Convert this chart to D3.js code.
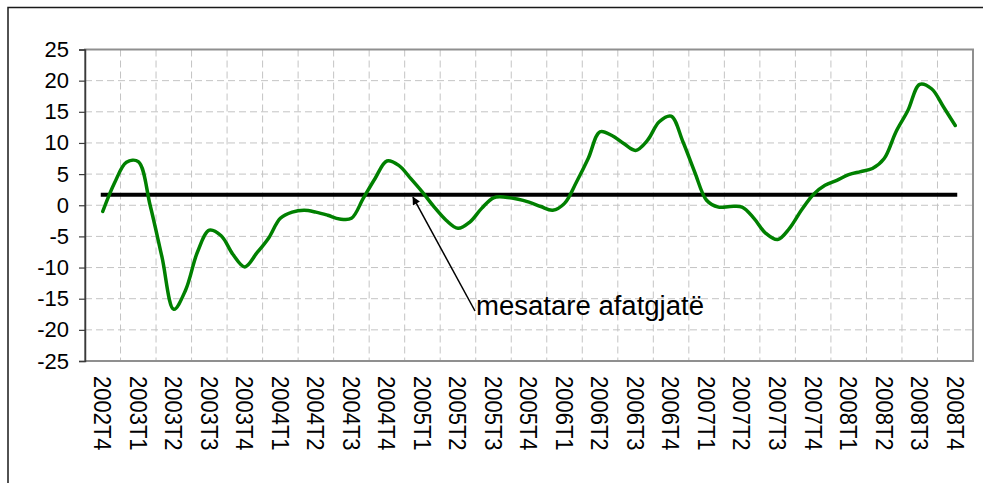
<!DOCTYPE html>
<html>
<head>
<meta charset="utf-8">
<script src="https://cdn.jsdelivr.net/npm/d3@7"></script>
<style>
  body { margin: 0; background: #fff; }
  svg { display: block; }
  text { font-family: "Liberation Sans", Arial, sans-serif; fill: #000; }
</style>
</head>
<body>
<svg id="chart"></svg>
<script>

// quarter labels on the category axis
const quarters = [
  '2002T4',
  '2003T1', '2003T2', '2003T3', '2003T4',
  '2004T1', '2004T2', '2004T3', '2004T4',
  '2005T1', '2005T2', '2005T3', '2005T4',
  '2006T1', '2006T2', '2006T3', '2006T4',
  '2007T1', '2007T2', '2007T3', '2007T4',
  '2008T1', '2008T2', '2008T3', '2008T4'
]

// monthly readings, three per quarter, 2002T4 .. 2008T4
const values = [
  -1.0, 3.6, 6.9, 7.0, 0.0, -8.3, -16.7, -13.6, -7.5, -4.0, -4.9, -7.9,
  -9.9, -7.7, -5.3, -2.1, -1.1, -0.8, -1.1, -1.6, -2.2, -2.1, 1.1, 4.3,
  7.1, 6.4, 4.3, 2.1, -0.3, -2.4, -3.7, -2.7, -0.5, 1.2, 1.3, 1.0,
  0.5, -0.2, -0.8, 0.3, 3.7, 7.5, 11.8, 11.2, 9.9, 8.8, 10.4, 13.4,
  14.3, 10.2, 5.3, 0.8, -0.3, -0.2, -0.3, -2.1, -4.5, -5.5, -3.7, -0.8,
  1.7, 3.2, 4.0, 4.9, 5.4, 5.9, 7.5, 11.8, 15.2, 19.4, 18.7, 15.8,
  12.8
]

const longRunMean = 1.7
const yTicks = [25, 20, 15, 10, 5, 0, -5, -10, -15, -20, -25]
const annotationText = 'mesatare afatgjatë'

const width = 983
const height = 483
const padding = { top: 49.5, right: 10, bottom: 122, left: 85 }

const svg = d3.select('#chart')
  .attr('width', width)
  .attr('height', height)

svg.append('rect')
  .attr('width', width)
  .attr('height', height)
  .attr('fill', '#fff')

// outer chart frame (only top and left edges are inside the picture)
svg.append('path')
  .attr('d', `M8,${ height } V7.5 H${ width }`)
  .attr('fill', 'none')
  .attr('stroke', '#1a1a1a')
  .attr('stroke-width', 1.5)

const x = d3.scaleBand()
  .domain(quarters)
  .range([padding.left, width - padding.right])
  .paddingInner(0)
  .paddingOuter(0)

const half = x.bandwidth() / 2
const xm = d3.scaleLinear()
  .domain([0, values.length - 1])
  .range([x(quarters[0]) + half, x(quarters[quarters.length - 1]) + half])

const y = d3.scaleLinear()
  .domain([-25, 25])
  .range([height - padding.bottom, padding.top])

// gridlines
const grid = svg.append('g').attr('class', 'grid')
  .attr('stroke', '#c4c4c4')
  .attr('stroke-width', 1)
  .attr('stroke-dasharray', '7,4')

grid.selectAll('.h').data(yTicks.filter(d => d > -25 && d < 25))
  .join('line')
  .attr('x1', padding.left)
  .attr('x2', width - padding.right)
  .attr('y1', d => y(d))
  .attr('y2', d => y(d))

grid.selectAll('.v').data(quarters.slice(1))
  .join('line')
  .attr('x1', d => x(d))
  .attr('x2', d => x(d))
  .attr('y1', padding.top)
  .attr('y2', height - padding.bottom)

// plot area border
svg.append('rect')
  .attr('x', padding.left)
  .attr('y', padding.top)
  .attr('width', width - padding.left - padding.right)
  .attr('height', height - padding.top - padding.bottom)
  .attr('fill', 'none')
  .attr('stroke', '#8f8f8f')
  .attr('stroke-width', 2)

// y axis
const yAxis = svg.append('g')
  .attr('class', 'axis y-axis')
  .attr('transform', `translate(${ padding.left }, 0)`)
  .call(d3.axisLeft(y).tickValues(yTicks).tickFormat(d => String(d)).tickSize(6).tickPadding(10))

yAxis.select('.domain')
  .attr('stroke', '#3a3a3a')
  .attr('stroke-width', 1.5)

yAxis.selectAll('.tick line')
  .attr('stroke', '#3a3a3a')
  .attr('stroke-width', 1.2)

yAxis.selectAll('.tick text')
  .style('font-size', '22px')
  .attr('fill', '#000')

// x axis, labels turned to read downwards
const xAxis = svg.append('g')
  .attr('class', 'axis x-axis')
  .attr('transform', `translate(0, ${ height - padding.bottom })`)
  .call(d3.axisBottom(x).tickSize(0).tickPadding(0))

xAxis.select('.domain').remove()

xAxis.selectAll('.tick text')
  .style('font-size', '22px')
  .style('text-anchor', 'start')
  .attr('fill', '#000')
  .attr('transform', 'rotate(90) scale(1, 1.12)')
  .attr('x', 15)
  .attr('y', 0)
  .attr('dy', '0.35em')

// long-run mean
svg.append('line')
  .attr('x1', xm(0))
  .attr('x2', xm(values.length - 1))
  .attr('y1', y(longRunMean))
  .attr('y2', y(longRunMean))
  .attr('stroke', '#000')
  .attr('stroke-width', 4)
  .attr('stroke-linecap', 'square')

// series
const line = d3.line()
  .x((d, i) => xm(i))
  .y(d => y(d))
  .curve(d3.curveCatmullRom.alpha(0.5))

svg.append('path')
  .datum(values)
  .attr('d', line)
  .attr('fill', 'none')
  .attr('stroke', '#008000')
  .attr('stroke-width', 3.5)
  .attr('stroke-linejoin', 'round')
  .attr('stroke-linecap', 'round')

// annotation arrow pointing at the mean line
svg.append('defs').append('marker')
  .attr('id', 'arrow')
  .attr('viewBox', '0 0 10 10')
  .attr('refX', 9)
  .attr('refY', 5)
  .attr('markerWidth', 12)
  .attr('markerHeight', 8)
  .attr('markerUnits', 'userSpaceOnUse')
  .attr('orient', 'auto')
  .append('path')
  .attr('d', 'M0,0 L10,5 L0,10 z')
  .attr('fill', '#000')

const tip = [xm(26.2), y(longRunMean) + 2.5]
const tail = [475, 311]

svg.append('line')
  .attr('x1', tail[0])
  .attr('y1', tail[1])
  .attr('x2', tip[0])
  .attr('y2', tip[1])
  .attr('stroke', '#000')
  .attr('stroke-width', 1.5)
  .attr('marker-end', 'url(#arrow)')

svg.append('text')
  .attr('x', tail[0] + 1)
  .attr('y', 315)
  .style('font-size', '27px')
  .attr('textLength', 228)
  .attr('lengthAdjust', 'spacingAndGlyphs')
  .text(annotationText)

</script>
</body>
</html>
